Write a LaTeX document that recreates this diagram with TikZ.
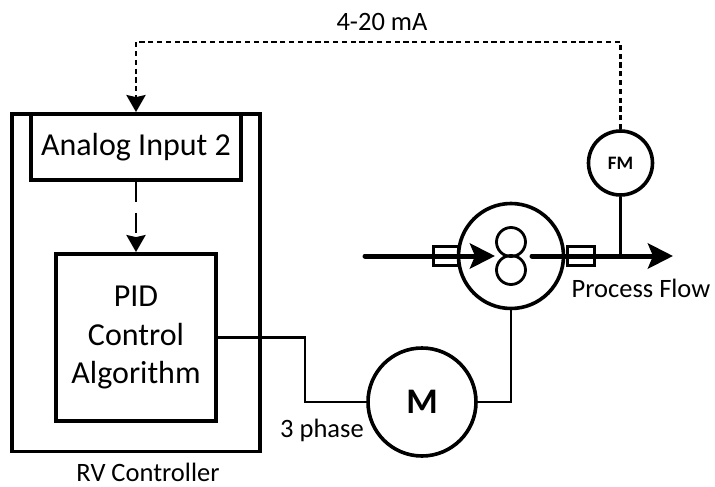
\documentclass[tikz,border=0pt]{standalone}
\usepackage{fontspec}
\setmainfont{Carlito}
\usetikzlibrary{arrows.meta}

\begin{document}
\begin{tikzpicture}[x = 1pt, y = -1pt]
\tikzstyle{boxStyle} = [shape = rectangle, draw, line width = 3.8pt, inner sep = 0pt, align = center, font = \fontsize{32}{38.5}\selectfont]
\tikzstyle{roundStyle} = [shape = circle, draw, inner sep = 0pt, line width = 3.6pt, font = \bfseries]
\tikzstyle{labelStyle} = [inner sep = 0pt, font = \fontsize{26.5}{32}\selectfont]
\tikzstyle{wireStyle} = [line width = 2.8pt]
\tikzstyle{signalStyle} = [line width = 2.8pt, dash pattern = on 5.2pt off 3.6pt, -{Stealth[length = 17pt, width = 19pt, inset = 2pt]}]
\tikzstyle{linkStyle} = [line width = 2.8pt, dash pattern = on 20pt off 11pt, -{Stealth[length = 17pt, width = 19pt, inset = 2pt]}]
\tikzstyle{flowStyle} = [line width = 5pt, line cap = round, -{Stealth[length = 25pt, width = 25pt, inset = 5pt]}]
\tikzstyle{collarStyle} = [shape = rectangle, draw, fill = white, line width = 3pt, inner sep = 0pt, minimum height = 19pt]
\useasboundingbox (0, 0) rectangle (715, 487);
% controller
\node[boxStyle, minimum width = 248pt, minimum height = 337.5pt] (controller) at (136, 282.75) {};
\node[boxStyle, fill = white, minimum width = 210pt, minimum height = 66pt] (analog) at (136, 147) {Analog Input 2};
\node[boxStyle, minimum width = 160pt, minimum height = 167pt] (pid) at (136, 337.5) {PID\\Control\\Algorithm};
% pump and motor
\node[collarStyle, minimum width = 25pt] (collarIn) at (445.5, 255.5) {};
\node[collarStyle, minimum width = 27pt] (collarOut) at (580.5, 255.5) {};
\node[roundStyle, minimum size = 105pt] (pump) at (511, 256) {};
\node[roundStyle, line width = 2.8pt, minimum size = 29pt] (lobeTop) at (511, 242) {};
\node[roundStyle, line width = 2.8pt, minimum size = 29pt] (lobeBottom) at (511, 270) {};
\node[roundStyle, minimum size = 108pt, font = \bfseries\fontsize{36}{36}\selectfont] (motor) at (422, 402) {M};
\node[roundStyle, minimum size = 64pt, font = \bfseries\fontsize{19}{19}\selectfont] (fm) at (620.5, 163) {FM};
% free ends
\coordinate (flowStart) at (365, 256);
\coordinate (flowIn) at (495, 256);
\coordinate (flowOut) at (532, 256);
\coordinate (flowEnd) at (673, 256);
\coordinate (tap) at (620.5, 256);
\coordinate (loopCorner) at (136, 42);
\coordinate (wireKnee) at (305, 337.5);
% connectors
\draw[flowStyle] (flowStart) -- (flowIn);
\draw[flowStyle] (flowOut) -- (flowEnd);
\draw[wireStyle] (fm.south) -- (tap);
\draw[signalStyle] (fm.north) |- (loopCorner) -- (analog.north);
\draw[linkStyle] (analog.south) -- (analog.south |- pid.north);
\draw[wireStyle] (pid.east) -- (wireKnee) |- (motor.west);
\draw[wireStyle] (pump.south) |- (motor.east);
% labels
\node[labelStyle] (loopLabel) at (382, 22) {4-20 mA};
\node[labelStyle] (flowLabel) at (641, 288) {Process Flow};
\node[labelStyle] (phaseLabel) at (322, 430) {3 phase};
\node[labelStyle] (controllerLabel) at (148, 472) {RV Controller};
\end{tikzpicture}
\end{document}
